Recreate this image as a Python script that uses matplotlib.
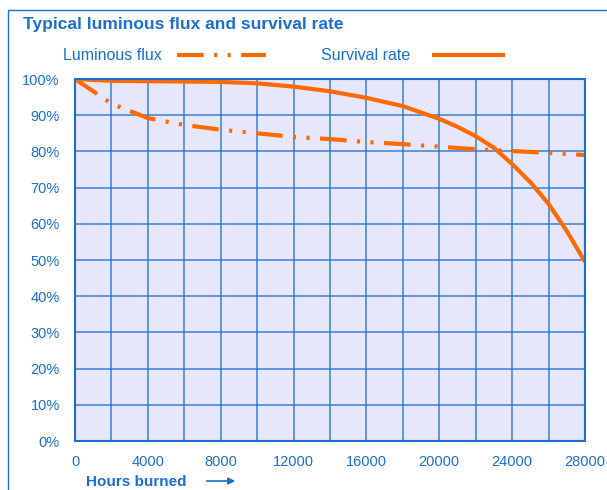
import matplotlib.pyplot as plt
import numpy as np
from matplotlib.lines import Line2D

plt.rcParams['font.family'] = ['Liberation Sans', 'DejaVu Sans']

# data
hours = [0, 2000, 4000, 6000, 8000, 10000, 12000, 14000, 16000, 18000, 20000, 22000, 24000, 26000, 28000]
flux = [100, 93.2, 89.2, 87.3, 86.0, 85.0, 84.0, 83.4, 82.6, 82.0, 81.3, 80.6, 80.1, 79.6, 79.0]
surv_hours = [0, 2000, 4000, 6000, 8000, 10000, 12000, 14000, 16000, 18000, 20000, 21000, 22000, 23000, 24000, 25000, 26000, 27000, 28000]
survival = [100, 99.5, 99.4, 99.3, 99.2, 98.8, 97.9, 96.6, 94.8, 92.5, 89.0, 86.8, 84.2, 81.0, 76.5, 71.5, 65.5, 58.0, 49.5]
xticks = [0, 4000, 8000, 12000, 16000, 20000, 24000, 28000]
yticks = [0, 10, 20, 30, 40, 50, 60, 70, 80, 90, 100]

blue = '#1a6fd0'
orange = '#ff6a00'
dashdotdot = (0, (6.4, 2.5, 0.75, 2.5, 0.75, 2.5))

fig = plt.figure(figsize=(6.07, 4.9), dpi=100)
ax = fig.add_axes([75/607, 1-441/490, 510/607, 362/490])
ax.set_facecolor('#e6e6fc')

ax.plot(hours, flux, color=orange, lw=3, ls=dashdotdot)
ax.plot(surv_hours, survival, color=orange, lw=3, solid_capstyle='butt')

ax.set_xlim(0, 28000)
ax.set_ylim(0, 100)
ax.set_xticks(np.arange(0, 28001, 2000), minor=True)
ax.set_xticks(xticks)
ax.set_xticklabels([str(t) for t in xticks])
ax.set_yticks(yticks)
ax.set_yticklabels([f'{t}%' for t in yticks])
ax.grid(True, which='both', color=blue, lw=1.1, alpha=0.85)
ax.set_axisbelow(True)
ax.tick_params(which='both', length=0, colors=blue, labelsize=10.5)
ax.tick_params(axis='x', pad=10)
ax.tick_params(axis='y', pad=11)
for s in ax.spines.values():
    s.set_color(blue)
    s.set_linewidth(1.5)

fig.text(23/607, 1-25/490, 'Typical luminous flux and survival rate', color=blue,
         fontsize=12.5, fontweight='bold', va='center', ha='left')
fig.text(63/607, 1-56/490, 'Luminous flux', color=blue, fontsize=11.5, va='center')
fig.text(321/607, 1-56/490, 'Survival rate', color=blue, fontsize=11.5, va='center')
fig.add_artist(Line2D([177/607, 266/607], [1-55/490, 1-55/490], color=orange, lw=3, ls=dashdotdot))
fig.add_artist(Line2D([432/607, 505/607], [1-55/490, 1-55/490], color=orange, lw=3, solid_capstyle='butt'))

fig.text(86/607, 1-482/490, 'Hours burned', color=blue, fontsize=11, fontweight='bold', va='center')
fig.add_artist(plt.Line2D([207/607, 232/607], [1-481/490, 1-481/490], color=blue, lw=1.2))
ax.annotate('', xy=(238/607, 1-481/490), xytext=(228/607, 1-481/490), xycoords='figure fraction',
            arrowprops=dict(arrowstyle='-|>', color=blue, lw=1.2, mutation_scale=10))

# outer frame
fig.add_artist(Line2D([8/607, 8/607, 1.0], [0, 1-10/490, 1-10/490], color=blue, lw=1))

fig.savefig('out.png', dpi=100)
